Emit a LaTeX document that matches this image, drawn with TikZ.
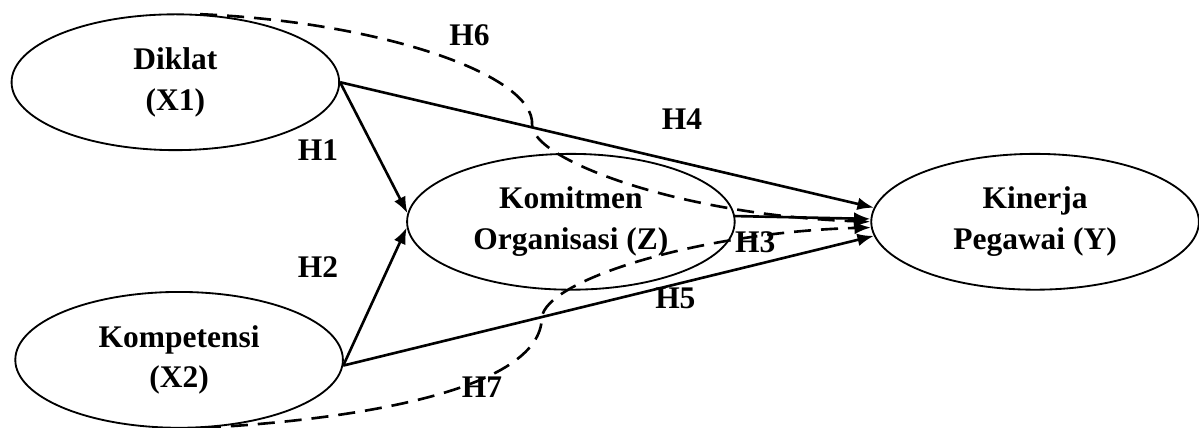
\documentclass[tikz,border=0pt]{standalone}
\usepackage{fontspec}
\setmainfont{Liberation Serif}
\usepackage{tikz}
\usetikzlibrary{arrows.meta,calc,positioning,shapes.geometric}
\tikzset{
varnode/.style={
  ellipse,
  line width=0.7pt,
  minimum width=4.39cm,
  minimum height=1.82cm,
  inner sep=0pt,
  align=center,
  draw=black,
  font=\fontsize{12}{15.5}\selectfont\bfseries,
  }
}
\tikzset{
hypline/.style={
  line width=1pt,
  -{Latex[length=2.2mm,width=1.7mm]}
  },
hypdash/.style={
  hypline,
  dash pattern=on 6.5pt off 3.8pt
  },
hyplabel/.style={
  font=\fontsize{12}{14}\selectfont\bfseries,
  inner sep=0pt
  }
}

\begin{document}
\begin{tikzpicture}[scale=1.0]
    \useasboundingbox (0,0) rectangle (16.067,5.722);

    % variables
    \node[varnode] (x1) at (2.35,4.62) {Diklat\\(X1)};
    \node[varnode] (x2) at (2.40,0.90) {Kompetensi\\(X2)};
    \node[varnode] (z) at (7.65,2.75) {Komitmen\\Organisasi (Z)};
    \node[varnode] (y) at (13.87,2.75) {Kinerja\\Pegawai (Y)};

    % hypothesis labels
    \node[hyplabel] (h1) at (4.26,3.71) {H1};
    \node[hyplabel] (h2) at (4.26,2.14) {H2};
    \node[hyplabel] (h3) at (10.12,2.48) {H3};
    \node[hyplabel] (h4) at (9.14,4.13) {H4};
    \node[hyplabel] (h5) at (9.05,1.73) {H5};
    \node[hyplabel] (h6) at (6.29,5.25) {H6};
    \node[hyplabel] (h7) at (6.46,0.54) {H7};

    % direct edges
    \draw[hypline] (x1.east) -- (z.177);
    \draw[hypline] (x2.358) -- (z.182);
    \draw[hypline] (z.2) -- (y.179);
    \draw[hypline] (x1.east) -- (y.175);
    \draw[hypline] (x2.358) -- (y.185);

    % mediated edges
    \draw[hypdash] (x1.70) .. controls (5.09,5.43) and (7.17,4.72) .. (7.13,4.05)
        .. controls (7.13,3.58) and (9.11,2.84) .. (y.180);
    \draw[hypdash] (x2.-70) .. controls (5.09,0.12) and (7.24,0.56) .. (7.26,1.46)
        .. controls (7.30,1.97) and (9.38,2.61) .. (y.182);
\end{tikzpicture}
\end{document}
